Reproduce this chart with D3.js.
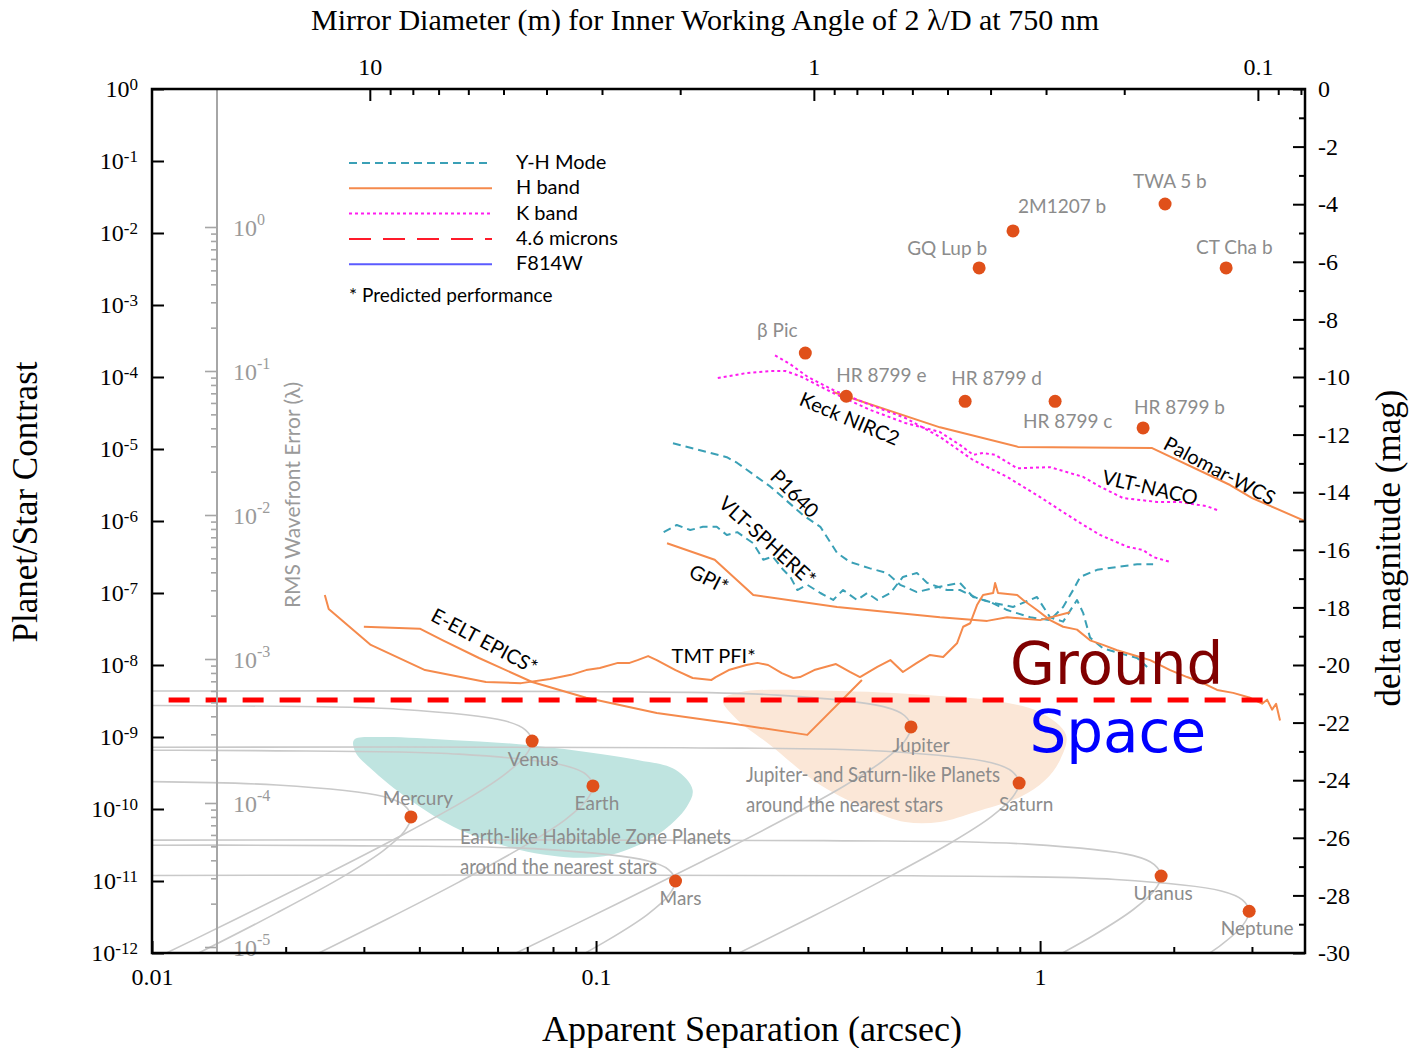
<!DOCTYPE html>
<html>
<head>
<meta charset="utf-8">
<script src="https://cdn.jsdelivr.net/npm/d3@7"></script>
<style>
  body { margin: 0; background: #fff; }
  svg { display: block; }
</style>
</head>
<body>
<svg id="chart" width="1412" height="1048"></svg>
<script>
// ---------- tick values ----------
const contrastExps = [0, -1, -2, -3, -4, -5, -6, -7, -8, -9, -10, -11, -12];
const sepMajor = [0.01, 0.1, 1];
const sepMajorLabels = ["0.01", "0.1", "1"];
const sepMinor = [0.02, 0.03, 0.04, 0.05, 0.06, 0.07, 0.08, 0.09,
                  0.2, 0.3, 0.4, 0.5, 0.6, 0.7, 0.8, 0.9, 2, 3];
const diamMajor = [10, 1, 0.1];
const diamMajorLabels = ["10", "1", "0.1"];
const diamMinor = [9, 8, 7, 6, 5, 4, 3, 2, 0.9, 0.8, 0.7, 0.6, 0.5, 0.4, 0.3, 0.2, 0.09, 0.08];
const dmagMajor = [0, -2, -4, -6, -8, -10, -12, -14, -16, -18, -20, -22, -24, -26, -28, -30];
const dmagMinor = [-1, -3, -5, -7, -9, -11, -13, -15, -17, -19, -21, -23, -25, -27, -29];
const wfeExps = [0, -1, -2, -3, -4, -5];
const wfeMinorMult = [2, 3, 4, 5, 6, 7, 8, 9];

// ---------- instrument contrast curves [separation arcsec, contrast] ----------
const palomarWCS = [[0.342, 6.2e-5], [0.595, 2.0e-5], [0.892, 1.07e-5], [1.788, 1.03e-5],
  [2.679, 3.16e-6], [3.003, 2.08e-6], [3.95, 1.0e-6]];

const keckNIRC2 = [[0.253, 2.0e-4], [0.274, 1.5e-4], [0.300, 1.0e-4], [0.342, 6.6e-5], [0.414, 4.1e-5],
  [0.497, 2.7e-5], [0.595, 1.47e-5], [0.707, 7.0e-6], [0.843, 4.1e-6], [1.0, 2.15e-6], [1.127, 1.33e-6],
  [1.231, 9.4e-7], [1.365, 6.4e-7], [1.570, 4.4e-7], [1.706, 3.95e-7], [1.797, 3.16e-7], [1.963, 2.7e-7]];

const vltNACO = [[0.188, 9.7e-5], [0.219, 1.14e-4], [0.247, 1.21e-4], [0.267, 1.21e-4], [0.288, 1.03e-4],
  [0.342, 6.0e-5], [0.414, 3.5e-5], [0.497, 2.3e-5], [0.595, 1.72e-5], [0.660, 1.14e-5], [0.707, 8.3e-6],
  [0.744, 8.8e-6], [0.792, 8.3e-6], [0.888, 5.4e-6], [1.053, 5.6e-6], [1.25, 4.1e-6], [1.365, 3.0e-6],
  [1.538, 2.08e-6], [1.834, 1.84e-6], [2.067, 1.84e-6], [2.377, 1.6e-6], [2.504, 1.42e-6]];

const p1640 = [[0.149, 1.2e-5], [0.197, 7.7e-6], [0.208, 6.4e-6], [0.247, 3.0e-6], [0.293, 1.2e-6],
  [0.320, 8.3e-7], [0.349, 3.6e-7], [0.373, 2.7e-7], [0.414, 2.2e-7], [0.452, 1.9e-7], [0.484, 1.3e-7],
  [0.528, 1.03e-7], [0.586, 1.2e-7], [0.660, 1.38e-7], [0.707, 8.8e-8], [0.772, 7.5e-8], [0.843, 5.8e-8],
  [0.950, 4.6e-8], [1.053, 4.2e-8], [1.127, 6.4e-8], [1.187, 1.1e-7], [1.231, 1.67e-7], [1.344, 2.1e-7],
  [1.491, 2.3e-7], [1.654, 2.5e-7], [1.797, 2.5e-7]];

const vltSPHERE = [[0.142, 7.0e-7], [0.152, 8.8e-7], [0.163, 7.5e-7], [0.174, 8.3e-7], [0.187, 8.3e-7],
  [0.197, 6.4e-7], [0.208, 7.0e-7], [0.226, 4.9e-7], [0.238, 2.9e-7], [0.250, 3.2e-7], [0.264, 2.1e-7],
  [0.274, 1.67e-7], [0.284, 1.1e-7], [0.299, 1.3e-7], [0.320, 1.0e-7], [0.342, 8.0e-8], [0.360, 1.1e-7],
  [0.387, 8.0e-8], [0.408, 1.0e-7], [0.430, 8.0e-8], [0.460, 1.0e-7], [0.491, 1.67e-7], [0.528, 1.9e-7],
  [0.557, 1.38e-7], [0.617, 1.1e-7], [0.660, 1.1e-7], [0.721, 8.5e-8], [0.784, 7.3e-8], [0.869, 6.4e-8],
  [0.984, 8.8e-8], [1.053, 4.6e-8], [1.127, 4.0e-8], [1.211, 8.0e-8], [1.25, 5.3e-8], [1.296, 2.4e-8],
  [1.386, 1.7e-8], [1.654, 1.25e-8], [1.742, 9.4e-9]];

const gpi = [[0.1445, 4.9e-7], [0.185, 2.9e-7], [0.226, 9.4e-8], [0.349, 6.4e-8], [0.595, 4.6e-8],
  [0.760, 4.1e-8], [0.843, 4.6e-8], [1.0, 4.2e-8], [1.168, 5.4e-8]];

const eeltEPICS = [[0.0300, 3.4e-8], [0.0401, 3.2e-8], [0.0452, 2.2e-8], [0.0545, 1.25e-8], [0.0718, 5.8e-9],
  [0.0950, 3.5e-9], [0.137, 2.15e-9], [0.199, 1.56e-9], [0.299, 1.07e-9], [0.397, 6.2e-9]];

const tmtPFI = [[0.0245, 9.4e-8], [0.0250, 6.0e-8], [0.0311, 1.9e-8], [0.0412, 8.5e-9], [0.0565, 5.8e-9],
  [0.0678, 5.6e-9], [0.0788, 6.4e-9], [0.0878, 7.3e-9], [0.0950, 8.5e-9], [0.102, 9.1e-9], [0.112, 1.07e-8],
  [0.119, 1.07e-8], [0.124, 1.17e-8], [0.131, 1.33e-8], [0.137, 1.17e-8], [0.151, 8.5e-9], [0.165, 6.6e-9],
  [0.182, 6.2e-9], [0.186, 6.8e-9], [0.199, 8.5e-9], [0.218, 1.0e-8], [0.231, 1.07e-8], [0.244, 1.0e-8],
  [0.262, 7.7e-9], [0.278, 6.6e-9], [0.288, 6.8e-9], [0.310, 8.5e-9], [0.347, 1.03e-8], [0.373, 8.0e-9],
  [0.393, 6.8e-9], [0.430, 9.4e-9], [0.460, 1.17e-8], [0.491, 8.0e-9], [0.528, 1.07e-8], [0.565, 1.38e-8],
  [0.605, 1.29e-8], [0.650, 2.0e-8], [0.671, 3.4e-8], [0.696, 3.8e-8], [0.721, 6.8e-8], [0.744, 9.4e-8],
  [0.784, 1.0e-7], [0.792, 1.38e-7], [0.804, 1.0e-7], [0.888, 9.4e-8], [0.916, 8.0e-8], [0.984, 5.8e-8],
  [1.053, 4.2e-8], [1.127, 3.4e-8], [1.211, 3.1e-8], [1.296, 2.2e-8], [1.386, 1.9e-8], [1.491, 1.6e-8],
  [1.62, 1.38e-8], [1.769, 1.17e-8], [1.963, 8.5e-9], [2.144, 6.8e-9], [2.328, 5.6e-9], [2.504, 4.5e-9],
  [2.721, 4.1e-9], [2.972, 3.5e-9], [3.162, 2.9e-9], [3.245, 3.3e-9], [3.33, 2.4e-9], [3.40, 2.9e-9],
  [3.47, 1.7e-9]];

// ---------- known planets ----------
const exoplanets = [
  { name: "β Pic", sep: 0.296, contrast: 2.15e-4 },
  { name: "HR 8799 e", sep: 0.366, contrast: 5.4e-5 },
  { name: "HR 8799 d", sep: 0.678, contrast: 4.6e-5 },
  { name: "HR 8799 c", sep: 1.081, contrast: 4.6e-5 },
  { name: "HR 8799 b", sep: 1.706, contrast: 1.96e-5 },
  { name: "GQ Lup b", sep: 0.729, contrast: 3.27e-3 },
  { name: "2M1207 b", sep: 0.869, contrast: 1.07e-2 },
  { name: "TWA 5 b", sep: 1.912, contrast: 2.53e-2 },
  { name: "CT Cha b", sep: 2.624, contrast: 3.27e-3 }
];

const solarPlanets = [
  { name: "Mercury", sep: 0.0383, contrast: 7.76e-11 },
  { name: "Venus", sep: 0.0718, contrast: 8.79e-10 },
  { name: "Earth", sep: 0.0984, contrast: 2.09e-10 },
  { name: "Mars", sep: 0.151, contrast: 1.0e-11 },
  { name: "Jupiter", sep: 0.512, contrast: 1.38e-9 },
  { name: "Saturn", sep: 0.897, contrast: 2.29e-10 },
  { name: "Uranus", sep: 1.873, contrast: 1.17e-11 },
  { name: "Neptune", sep: 2.957, contrast: 3.80e-12 }
];

// orbital phase tracks (gray)
const mercuryTrack = [[0.0063, 2.44e-10], [0.0191, 2.15e-10], [0.0332, 1.49e-10], [0.0370, 1.12e-10],
  [0.0383, 7.76e-11], [0.0370, 4.86e-11], [0.0332, 2.65e-11], [0.0271, 1.18e-11], [0.0191, 3.61e-12],
  [0.0131, 1.09e-12], [0.00665, 1.37e-13]];
const venusTrack = [[0.0063, 2.76e-9], [0.0125, 2.72e-9], [0.0359, 2.43e-9], [0.0622, 1.68e-9],
  [0.0693, 1.26e-9], [0.0718, 8.79e-10], [0.0693, 5.51e-10], [0.0622, 3.01e-10], [0.0508, 1.33e-10],
  [0.0359, 4.09e-11], [0.0246, 1.23e-11], [0.0125, 1.56e-12], [0.00625, 1.99e-13]];
const earthTrack = [[0.0063, 6.56e-10], [0.0171, 6.47e-10], [0.0492, 5.78e-10], [0.0853, 4.0e-10],
  [0.0951, 3.01e-10], [0.0984, 2.09e-10], [0.0951, 1.31e-10], [0.0853, 7.14e-11], [0.0696, 3.17e-11],
  [0.0492, 9.73e-12], [0.0337, 2.92e-12], [0.0171, 3.70e-13]];
const marsTrack = [[0.0063, 3.14e-11], [0.0262, 3.10e-11], [0.0753, 2.77e-11], [0.1305, 1.91e-11],
  [0.1456, 1.44e-11], [0.151, 1.0e-11], [0.1456, 6.27e-12], [0.1305, 3.42e-12], [0.1065, 1.52e-12],
  [0.0753, 4.66e-13]];
const jupiterTrack = [[0.0063, 4.34e-9], [0.089, 4.28e-9], [0.256, 3.82e-9], [0.444, 2.64e-9],
  [0.495, 1.99e-9], [0.512, 1.38e-9], [0.495, 8.65e-10], [0.444, 4.72e-10], [0.362, 2.09e-10],
  [0.256, 6.43e-11], [0.175, 1.93e-11], [0.089, 2.44e-12], [0.0446, 3.12e-13]];
const saturnTrack = [[0.0063, 7.19e-10], [0.156, 7.10e-10], [0.448, 6.34e-10], [0.777, 4.39e-10],
  [0.866, 3.30e-10], [0.897, 2.29e-10], [0.866, 1.44e-10], [0.777, 7.83e-11], [0.634, 3.48e-11],
  [0.448, 1.07e-11], [0.307, 3.21e-12], [0.156, 4.06e-13]];
const uranusTrack = [[0.0063, 3.69e-11], [0.325, 3.64e-11], [0.937, 3.25e-11], [1.622, 2.25e-11],
  [1.808, 1.69e-11], [1.873, 1.17e-11], [1.808, 7.36e-12], [1.622, 4.02e-12], [1.324, 1.78e-12],
  [0.937, 5.47e-13]];
const neptuneTrack = [[0.0063, 1.19e-11], [0.514, 1.18e-11], [1.478, 1.05e-11], [2.559, 7.28e-12],
  [2.855, 5.47e-12], [2.957, 3.80e-12], [2.855, 2.38e-12], [2.559, 1.30e-12], [2.09, 5.77e-13]];

// shaded target regions
const habitableZone = [[0.0285, 9.1e-10], [0.0326, 1.0e-9], [0.0469, 9.1e-10], [0.0710, 7.7e-10],
  [0.124, 4.8e-10], [0.151, 3.5e-10], [0.165, 1.84e-10], [0.160, 1.07e-10], [0.139, 4.6e-11],
  [0.112, 2.45e-11], [0.092, 2.1e-11], [0.0674, 2.7e-11], [0.0494, 5.1e-11], [0.0381, 1.33e-10],
  [0.0310, 3.7e-10], [0.0287, 6.2e-10]];
const giantZone = [[0.193, 3.27e-9], [0.211, 4.2e-9], [0.337, 4.4e-9], [0.565, 3.8e-9], [0.813, 3.1e-9],
  [1.0, 2.2e-9], [1.144, 1.07e-9], [1.109, 4.8e-10], [1.026, 2.5e-10], [0.902, 1.47e-10], [0.714, 9.1e-11],
  [0.595, 6.6e-11], [0.497, 6.6e-11], [0.414, 9.7e-11], [0.320, 2.15e-10], [0.247, 7.7e-10],
  [0.206, 1.84e-9]];

// ground / space boundary
const divideContrast = 3.27e-9;
const divideSep = [0.0109, 3.38];

// ---------- layout ----------
const W = 1412, H = 1048;
const X0 = 152, X1 = 1305, Y0 = 89, Y1 = 953;
const serif = '"Liberation Serif", "Times New Roman", serif';
const sans = 'Lato, "Open Sans", sans-serif';
const cOrange = "#f58a4c", cTeal = "#3aa0b6", cMagenta = "#ff1cf0", cRed = "#ff1a2a", cBlue = "#5b5bff";
const cDot = "#e0501a", cGrayText = "#8c8c8c";

const styles = {
  yh: { stroke: cTeal, dash: "8,5", width: 2 },
  h: { stroke: cOrange, dash: null, width: 2 },
  k: { stroke: cMagenta, dash: "3,3", width: 2 },
  m46: { stroke: cRed, dash: "22,12", width: 2 },
  f814: { stroke: cBlue, dash: null, width: 2 }
};

const curves = [
  { data: palomarWCS, style: "h" },
  { data: keckNIRC2, style: "k" },
  { data: vltNACO, style: "k" },
  { data: p1640, style: "yh" },
  { data: vltSPHERE, style: "yh" },
  { data: gpi, style: "h" },
  { data: eeltEPICS, style: "h" },
  { data: tmtPFI, style: "h" }
];

const tracks = [mercuryTrack, venusTrack, earthTrack, marsTrack, jupiterTrack, saturnTrack, uranusTrack, neptuneTrack];

// label anchors: [sep, contrast] and rotation
const curveLabels = [
  { text: "Keck NIRC2", at: [0.373, 2.7e-5], angle: 23 },
  { text: "P1640", at: [0.281, 2.45e-6], angle: 45 },
  { text: "VLT-SPHERE*", at: [0.244, 5.4e-7], angle: 42 },
  { text: "GPI*", at: [0.180, 1.6e-7], angle: 27 },
  { text: "E-ELT EPICS*", at: [0.0562, 2.2e-8], angle: 28 },
  { text: "TMT PFI*", at: [0.184, 1.38e-8], angle: 0 },
  { text: "VLT-NACO", at: [1.77, 3.0e-6], angle: 13 },
  { text: "Palomar-WCS", at: [2.543, 5.1e-6], angle: 28 }
];

// pixel offsets from the dot: [dx, dy, anchor]
const exoLabelPos = {
  "β Pic": [-28, -16, "middle"], "HR 8799 e": [-10, -14, "start"], "HR 8799 d": [-14, -16, "start"],
  "HR 8799 c": [-32, 27, "start"], "HR 8799 b": [-9, -14, "start"], "GQ Lup b": [-72, -13, "start"],
  "2M1207 b": [5, -18, "start"], "TWA 5 b": [-32, -16, "start"], "CT Cha b": [-30, -14, "start"]
};
const solarLabelPos = {
  Mercury: [7, -12], Venus: [1, 25], Earth: [4, 24], Mars: [5, 24],
  Jupiter: [10, 25], Saturn: [7, 28], Uranus: [2, 24], Neptune: [8, 24]
};

const legendItems = [
  { label: "Y-H Mode", style: "yh" },
  { label: "H band", style: "h" },
  { label: "K band", style: "k" },
  { label: "4.6 microns", style: "m46" },
  { label: "F814W", style: "f814" }
];

// ---------- scales ----------
const x = d3.scaleLog().domain([0.01, 3.95]).range([X0, X1]);
const y = d3.scaleLog().domain([1e-12, 1]).range([Y1, Y0]);
const dmag = d3.scaleLinear().domain([0, -30]).range([Y0, Y1]);
const lambda = 750e-9, arcsec = Math.PI / 648000;
const diamAt = sep => 2 * lambda / (sep * arcsec);
const xD = d3.scaleLog().domain([diamAt(0.01), diamAt(3.95)]).range([X0, X1]);
const wfe = d3.scaleLog().domain([1e-5, 1]).range([947, 227]);

const svg = d3.select("#chart");
svg.append("rect").attr("width", W).attr("height", H).attr("fill", "#fff");
svg.append("defs").append("clipPath").attr("id", "plotClip")
  .append("rect").attr("x", X0).attr("y", Y0).attr("width", X1 - X0).attr("height", Y1 - Y0);

const plot = svg.append("g").attr("clip-path", "url(#plotClip)");
const line = d3.line().x(d => x(d[0])).y(d => y(d[1]));

// regions
const regionLine = d3.line().x(d => x(d[0])).y(d => y(d[1])).curve(d3.curveCatmullRomClosed.alpha(0.5));
plot.append("path").attr("d", regionLine(habitableZone)).attr("fill", "#bfe4e0");
plot.append("path").attr("d", regionLine(giantZone)).attr("fill", "#fbe7d7");

// planet phase tracks
const trackLine = d3.line().x(d => x(d[0])).y(d => y(d[1])).curve(d3.curveCatmullRom.alpha(0.5));
plot.selectAll(".track").data(tracks).enter().append("path")
  .attr("class", "track")
  .attr("d", d => trackLine(d))
  .attr("fill", "none").attr("stroke", "#c9c9c9").attr("stroke-width", 1.6);

// RMS wavefront error axis (gray)
svg.append("line").attr("x1", 217).attr("x2", 217).attr("y1", Y0).attr("y2", Y1)
  .attr("stroke", "#a6a6a6").attr("stroke-width", 2);
const wfeMinor = [];
wfeExps.slice(1).forEach(e => wfeMinorMult.forEach(m => wfeMinor.push(m * Math.pow(10, e))));
svg.append("g").attr("transform", "translate(217,0)")
  .call(d3.axisLeft(wfe).tickValues(wfeExps.map(e => Math.pow(10, e))).tickSize(12).tickFormat(""))
  .call(g => g.select(".domain").remove())
  .call(g => g.selectAll("line").attr("stroke", "#a6a6a6").attr("stroke-width", 1.6));
svg.append("g").attr("transform", "translate(217,0)")
  .call(d3.axisLeft(wfe).tickValues(wfeMinor).tickSize(6).tickFormat(""))
  .call(g => g.select(".domain").remove())
  .call(g => g.selectAll("line").attr("stroke", "#a6a6a6").attr("stroke-width", 1.6));
const wfeLab = svg.append("g").attr("fill", "#9a9a9a").attr("font-family", serif);
wfeExps.forEach(e => {
  const t = wfeLab.append("text").attr("x", 233).attr("y", wfe(Math.pow(10, e)) + 9).attr("font-size", 24);
  t.append("tspan").text("10");
  t.append("tspan").attr("dy", -11).attr("font-size", 16).text(e);
});
svg.append("text")
  .attr("transform", "translate(300,495) rotate(-90)")
  .attr("text-anchor", "middle").attr("font-family", sans).attr("font-size", 21)
  .attr("fill", "#9a9a9a").text("RMS Wavefront Error (λ)");

// instrument curves
plot.selectAll(".curve").data(curves).enter().append("path")
  .attr("class", "curve")
  .attr("d", d => line(d.data))
  .attr("fill", "none")
  .attr("stroke", d => styles[d.style].stroke)
  .attr("stroke-width", d => styles[d.style].width)
  .attr("stroke-dasharray", d => styles[d.style].dash)
  .attr("stroke-linejoin", "round");

// ground / space divide
plot.append("line")
  .attr("x1", x(divideSep[0])).attr("x2", x(divideSep[1]))
  .attr("y1", y(divideContrast)).attr("y2", y(divideContrast))
  .attr("stroke", "#ff0000").attr("stroke-width", 5).attr("stroke-dasharray", "21,16");

// planet dots
plot.selectAll(".exo").data(exoplanets).enter().append("circle")
  .attr("cx", d => x(d.sep)).attr("cy", d => y(d.contrast)).attr("r", 6.5).attr("fill", cDot);
plot.selectAll(".sol").data(solarPlanets).enter().append("circle")
  .attr("cx", d => x(d.sep)).attr("cy", d => y(d.contrast)).attr("r", 6.5).attr("fill", cDot);

// planet labels
const labG = svg.append("g").attr("font-family", sans).attr("fill", cGrayText).attr("font-size", 19);
exoplanets.forEach(d => {
  const p = exoLabelPos[d.name];
  labG.append("text").attr("x", x(d.sep) + p[0]).attr("y", y(d.contrast) + p[1])
    .attr("text-anchor", p[2]).text(d.name);
});
solarPlanets.forEach(d => {
  const p = solarLabelPos[d.name];
  labG.append("text").attr("x", x(d.sep) + p[0]).attr("y", y(d.contrast) + p[1])
    .attr("text-anchor", "middle").text(d.name);
});
const regionText = [
  { t: "Earth-like Habitable Zone Planets", x: 460, y: 844, w: 271 },
  { t: "around the nearest stars", x: 460, y: 874, w: 197 },
  { t: "Jupiter- and Saturn-like Planets", x: 746, y: 782, w: 254 },
  { t: "around the nearest stars", x: 746, y: 812, w: 197 }
];
regionText.forEach(r => {
  labG.append("text").attr("x", r.x).attr("y", r.y).attr("font-size", 21)
    .attr("textLength", r.w).attr("lengthAdjust", "spacingAndGlyphs").text(r.t);
});

// curve labels
curveLabels.forEach(l => {
  svg.append("text")
    .attr("transform", `translate(${x(l.at[0])},${y(l.at[1])}) rotate(${l.angle})`)
    .attr("text-anchor", "middle").attr("dominant-baseline", "central")
    .attr("font-family", sans).attr("font-size", 20).attr("fill", "#000").text(l.text);
});

// Ground / Space
svg.append("text").attr("x", x(0.856)).attr("y", y(divideContrast) - 16)
  .attr("font-family", '"DejaVu Sans", sans-serif').attr("font-size", 58).attr("fill", "#800000").text("Ground");
svg.append("text").attr("x", x(0.946)).attr("y", y(divideContrast) + 52)
  .attr("font-family", '"DejaVu Sans", sans-serif').attr("font-size", 58).attr("fill", "#0000ff").text("Space");

// legend
const leg = svg.append("g").attr("transform", "translate(349,163)");
legendItems.forEach((it, i) => {
  const s = styles[it.style];
  leg.append("line").attr("x1", 0).attr("x2", 143).attr("y1", i * 25.3).attr("y2", i * 25.3)
    .attr("stroke", s.stroke).attr("stroke-width", s.width).attr("stroke-dasharray", s.dash);
  leg.append("text").attr("x", 167).attr("y", i * 25.3 + 6)
    .attr("font-family", sans).attr("font-size", 20).attr("fill", "#000").text(it.label);
});
leg.append("text").attr("x", 0).attr("y", 139).attr("font-family", sans).attr("font-size", 19)
  .attr("fill", "#000").text("* Predicted performance");

// ---------- axes ----------
function styleAxis(g) {
  g.select(".domain").remove();
  g.selectAll("line").attr("stroke", "#000").attr("stroke-width", 2);
  g.selectAll("text").attr("font-family", serif).attr("font-size", 24).attr("fill", "#000");
}

// left: contrast
svg.append("g").attr("transform", `translate(${X0},0)`)
  .call(d3.axisLeft(y).tickValues(contrastExps.map(e => Math.pow(10, e))).tickSize(-12).tickPadding(14))
  .call(styleAxis)
  .call(g => g.selectAll(".tick text").each(function (d) {
    const t = d3.select(this).text(null);
    t.append("tspan").text("10");
    t.append("tspan").attr("dy", "-0.45em").attr("font-size", 17).text(Math.round(Math.log10(d)));
  }));

// bottom: separation
svg.append("g").attr("transform", `translate(0,${Y1})`)
  .call(d3.axisBottom(x).tickValues(sepMajor).tickSize(-12).tickPadding(15)
    .tickFormat((d, i) => sepMajorLabels[i]))
  .call(styleAxis);
svg.append("g").attr("transform", `translate(0,${Y1})`)
  .call(d3.axisBottom(x).tickValues(sepMinor).tickSize(-6).tickFormat(""))
  .call(styleAxis);

// top: mirror diameter
svg.append("g").attr("transform", `translate(0,${Y0})`)
  .call(d3.axisTop(xD).tickValues(diamMajor).tickSize(-12).tickPadding(14)
    .tickFormat((d, i) => diamMajorLabels[i]))
  .call(styleAxis);
svg.append("g").attr("transform", `translate(0,${Y0})`)
  .call(d3.axisTop(xD).tickValues(diamMinor).tickSize(-6).tickFormat(""))
  .call(styleAxis);

// right: delta magnitude
svg.append("g").attr("transform", `translate(${X1},0)`)
  .call(d3.axisRight(dmag).tickValues(dmagMajor).tickSize(-12).tickPadding(13).tickFormat(d => String(d)))
  .call(styleAxis);
svg.append("g").attr("transform", `translate(${X1},0)`)
  .call(d3.axisRight(dmag).tickValues(dmagMinor).tickSize(-6).tickFormat(""))
  .call(styleAxis);

// frame
svg.append("rect").attr("x", X0).attr("y", Y0).attr("width", X1 - X0).attr("height", Y1 - Y0)
  .attr("fill", "none").attr("stroke", "#000").attr("stroke-width", 2.5);

// titles
svg.append("text").attr("x", 705).attr("y", 30).attr("text-anchor", "middle")
  .attr("font-family", serif).attr("font-size", 30)
  .text("Mirror Diameter (m) for Inner Working Angle of 2 λ/D at 750 nm");
svg.append("text").attr("x", 752).attr("y", 1041).attr("text-anchor", "middle")
  .attr("font-family", serif).attr("font-size", 36).text("Apparent Separation (arcsec)");
svg.append("text").attr("transform", "translate(37,502) rotate(-90)").attr("text-anchor", "middle")
  .attr("font-family", serif).attr("font-size", 35).text("Planet/Star Contrast");
svg.append("text").attr("transform", "translate(1400,548) rotate(-90)").attr("text-anchor", "middle")
  .attr("font-family", serif).attr("font-size", 35).text("delta magnitude (mag)");
</script>
</body>
</html>
